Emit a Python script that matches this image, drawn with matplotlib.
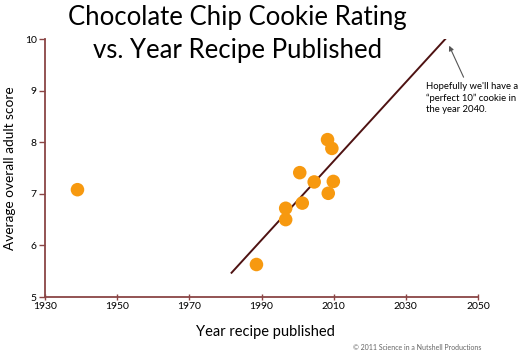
import matplotlib.pyplot as plt

# data
years = [1939, 1988.6, 1996.7, 1996.7, 2000.6, 2001.3, 2004.6, 2008.3, 2008.5, 2009.5, 2009.9]
scores = [7.08, 5.63, 6.50, 6.72, 7.41, 6.82, 7.23, 8.05, 7.01, 7.88, 7.24]

# trend line end points
fit_years = [1981.7, 2041.2]
fit_scores = [5.47, 10.02]

x_ticks = [1930, 1950, 1970, 1990, 2010, 2030, 2050]
y_ticks = [5, 6, 7, 8, 9, 10]

note = "Hopefully we'll have a\n\u201cperfect 10\u201d cookie in\nthe year 2040."

plt.rcParams['font.family'] = ['Lato', 'DejaVu Sans']

fig = plt.figure(figsize=(5.25, 3.56), dpi=100)
ax = fig.add_axes([0.0857, 0.1657, 0.8248, 0.7247])

spine_col = '#8a4545'
ax.plot(fit_years, fit_scores, color='#4e1212', lw=1.4, zorder=2)
ax.scatter(years, scores, s=95, color='#f7990f', edgecolors='none', zorder=3)

ax.set_xlim(1930, 2050)
ax.set_ylim(5, 10)
ax.set_xticks(x_ticks)
ax.set_yticks(y_ticks)

for side in ['top', 'right']:
    ax.spines[side].set_visible(False)
for side in ['left', 'bottom']:
    ax.spines[side].set_color(spine_col)
    ax.spines[side].set_linewidth(1.3)

ax.tick_params(axis='x', direction='inout', length=5, width=1, color=spine_col,
               labelsize=7.5, pad=1)
ax.tick_params(axis='y', direction='out', length=4, width=1, color=spine_col,
               labelsize=7.5, pad=2)

ax.set_xlabel("Year recipe published", fontsize=10.5)
ax.xaxis.set_label_coords(0.508, -0.11)
ax.set_ylabel("Average overall adult score", fontsize=9.8)
ax.yaxis.set_label_coords(-0.067, 0.5)

fig.text(0.452, 0.905, "Chocolate Chip Cookie Rating\nvs. Year Recipe Published",
         ha='center', va='center', fontsize=18.5, linespacing=1.38)

ax.text(2035.5, 9.17, note, fontsize=6.8, ha='left', va='top', linespacing=1.3)
ax.annotate("", xy=(2042.0, 9.87), xytext=(2046.0, 9.26),
            arrowprops=dict(arrowstyle='-|>', color='#555555', lw=0.8,
                            shrinkA=0, shrinkB=0, mutation_scale=7))

fig.text(0.917, 0.014, "\u00a9 2011 Science in a Nutshell Productions",
         ha='right', va='bottom', fontsize=5, color='#666666')

fig.savefig('out.png', dpi=100)
